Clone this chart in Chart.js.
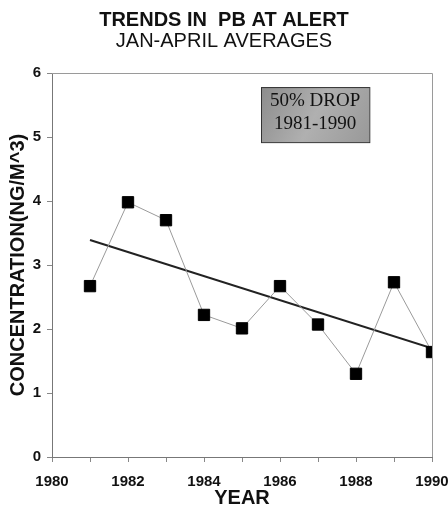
<!DOCTYPE html>
<html>
<head>
<meta charset="utf-8">
<script src="https://cdn.jsdelivr.net/npm/chart.js@4/dist/chart.umd.min.js"></script>
<style>
  html, body { margin: 0; padding: 0; background: #fff; }
  #wrap { width: 448px; height: 508px; }
</style>
</head>
<body>
<div id="wrap"><canvas id="pbChart" width="448" height="508"></canvas></div>
<script>
//---------- data ----------
const years = [1981, 1982, 1983, 1984, 1985, 1986, 1987, 1988, 1989, 1990];
const concentration = [2.67, 3.98, 3.70, 2.22, 2.01, 2.67, 2.07, 1.30, 2.73, 1.64];
// fitted trend, end points only
const trendYears = [1981, 1990];
const trendValues = [3.39, 1.70];
const yTicks = [0, 1, 2, 3, 4, 5, 6];
const noteLines = ['50% DROP', '1981-1990'];

const sans = "'Liberation Sans', Arial, sans-serif";

// top + right frame lines and the grey note box
const framePlugin = {
  id: 'frameAndNote',
  afterDraw(chart) {
    const {ctx, chartArea: a, scales: {x, y}} = chart;
    ctx.save();
    ctx.strokeStyle = '#9a9a9a';
    ctx.lineWidth = 1;
    ctx.beginPath();
    ctx.moveTo(a.left, a.top + 0.5);
    ctx.lineTo(a.right + 0.5, a.top + 0.5);
    ctx.lineTo(a.right + 0.5, a.bottom);
    ctx.stroke();

    // note box placed in data units
    const bx0 = x.getPixelForValue(1985.5), bx1 = x.getPixelForValue(1988.35);
    const by0 = y.getPixelForValue(5.78), by1 = y.getPixelForValue(4.92);
    const g = ctx.createLinearGradient(bx0, by0, bx1, by1);
    g.addColorStop(0, '#8c8c8c');
    g.addColorStop(0.5, '#b0b0b0');
    g.addColorStop(1, '#999');
    ctx.fillStyle = g;
    ctx.fillRect(bx0, by0, bx1 - bx0, by1 - by0);
    ctx.strokeStyle = '#333';
    ctx.strokeRect(bx0 + 0.5, by0 + 0.5, bx1 - bx0, by1 - by0);
    ctx.fillStyle = '#111';
    ctx.font = "19px 'Liberation Serif', 'Times New Roman', serif";
    ctx.textAlign = 'center';
    ctx.textBaseline = 'middle';
    const cx = (bx0 + bx1) / 2;
    ctx.fillText(noteLines[0], cx, by0 + 14);
    ctx.fillText(noteLines[1], cx, by0 + 37);
    ctx.restore();
  }
};

const chart = new Chart(document.getElementById('pbChart'), {
  type: 'line',
  data: {
    datasets: [
      {
        data: years.map((yr, i) => ({x: yr, y: concentration[i]})),
        borderColor: '#9a9a9a',
        borderWidth: 1,
        pointStyle: 'rect',
        pointRadius: 8,
        pointBackgroundColor: '#000',
        pointBorderColor: '#000',
        pointBorderWidth: 1,
        tension: 0
      },
      {
        data: trendYears.map((yr, i) => ({x: yr, y: trendValues[i]})),
        borderColor: '#222',
        borderWidth: 2,
        pointRadius: 0,
        tension: 0
      }
    ]
  },
  options: {
    responsive: false,
    animation: false,
    devicePixelRatio: 1,
    layout: { padding: 0 },
    plugins: {
      legend: { display: false },
      tooltip: { enabled: false },
      title: {
        display: true,
        text: 'TRENDS IN  PB AT ALERT',
        color: '#111',
        font: { family: sans, size: 20, weight: 'bold', lineHeight: 1 },
        padding: { top: 10, bottom: 0 }
      },
      subtitle: {
        display: true,
        text: 'JAN-APRIL AVERAGES',
        color: '#111',
        font: { family: sans, size: 20, weight: 'normal', lineHeight: 1 },
        padding: { top: 1, bottom: 22 }
      }
    },
    scales: {
      x: {
        type: 'linear',
        min: 1980,
        max: 1990,
        afterFit: (s) => {
          s.height = 51;
          // let the last year label sit close to the right edge
          s.paddingLeft = 0;
          s.paddingRight = 16;
        },
        afterBuildTicks: (s) => {
          s.ticks = [];
          for (let v = 1980; v <= 1990; v++) s.ticks.push({value: v});
        },
        ticks: {
          callback: (v) => (v % 2 === 0 ? String(v) : ''),
          color: '#111',
          font: { family: sans, size: 15, weight: 'bold' },
          padding: 11,
          maxRotation: 0,
          autoSkip: false
        },
        grid: { drawOnChartArea: false, drawTicks: true, tickLength: 5, color: '#888' },
        border: { display: true, color: '#777', width: 1 },
        title: {
          display: true,
          text: 'YEAR',
          color: '#111',
          font: { family: sans, size: 20, weight: 'bold', lineHeight: 1 },
          padding: { top: 0, bottom: 0 }
        }
      },
      y: {
        min: yTicks[0],
        max: yTicks[yTicks.length - 1],
        afterFit: (s) => { s.width = 52; },
        afterBuildTicks: (s) => { s.ticks = yTicks.map(v => ({value: v})); },
        ticks: {
          color: '#111',
          font: { family: sans, size: 15, weight: 'bold' },
          padding: 6
        },
        grid: { drawOnChartArea: false, drawTicks: true, tickLength: 5, color: '#888' },
        border: { display: true, color: '#777', width: 1 },
        title: {
          display: true,
          text: 'CONCENTRATION(NG/M^3)',
          color: '#111',
          font: { family: sans, size: 20, weight: 'bold', lineHeight: 1 },
          padding: { top: 8, bottom: 0 }
        }
      }
    }
  },
  plugins: [framePlugin]
});
</script>
</body>
</html>
